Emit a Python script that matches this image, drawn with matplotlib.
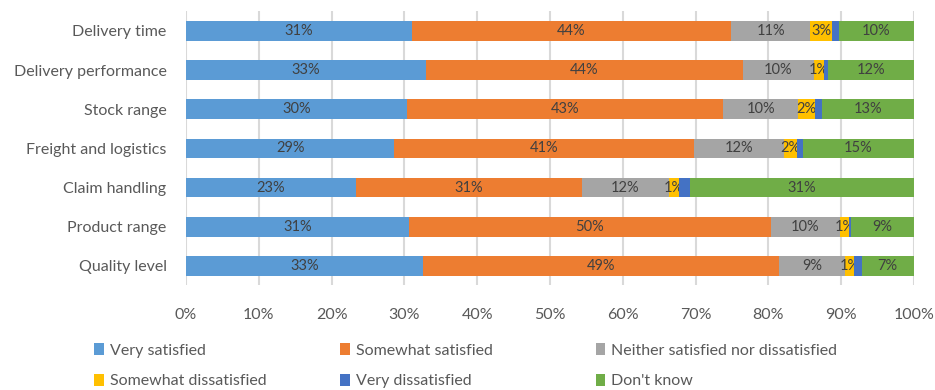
import numpy as np
import matplotlib.pyplot as plt
from matplotlib.ticker import PercentFormatter

# Kategorien (von oben nach unten) und Anteile je Antwort in Prozent
kategorien = ['Delivery time', 'Delivery performance', 'Stock range',
              'Freight and logistics', 'Claim handling', 'Product range',
              'Quality level']
very_satisfied = [31.0, 32.9, 30.4, 28.6, 23.3, 30.6, 32.6]
somewhat_satisfied = [43.9, 43.6, 43.4, 41.2, 31.1, 49.7, 48.9]
neither = [10.8, 9.7, 10.3, 12.4, 11.9, 9.6, 9.0]
somewhat_dissatisfied = [3.1, 1.4, 2.3, 1.7, 1.4, 1.2, 1.3]
very_dissatisfied = [0.9, 0.6, 0.9, 0.8, 1.5, 0.3, 1.0]
dont_know = [10.3, 11.8, 12.7, 15.3, 30.8, 8.6, 7.2]

serien = [
    ('Very satisfied', very_satisfied, '#5b9bd5', True),
    ('Somewhat satisfied', somewhat_satisfied, '#ed7d31', True),
    ('Neither satisfied nor dissatisfied', neither, '#a5a5a5', True),
    ('Somewhat dissatisfied', somewhat_dissatisfied, '#ffc000', True),
    ('Very dissatisfied', very_dissatisfied, '#4472c4', False),
    ("Don't know", dont_know, '#70ad47', True),
]

plt.rcParams['font.family'] = ['Lato', 'DejaVu Sans']
textfarbe = '#595959'

fig = plt.figure(figsize=(9.35, 3.9), dpi=100)
ax = fig.add_axes([0.199, 0.268, 0.7785, 0.703])

y = np.arange(len(kategorien))
links = np.zeros(len(kategorien))
balken = []
for name, werte, farbe, beschriften in serien:
    werte = np.array(werte)
    b = ax.barh(y, werte, left=links, height=0.5, color=farbe, label=name,
                zorder=3)
    balken.append(b)
    if beschriften:
        ax.bar_label(b, labels=[f'{w:.0f}%' for w in werte],
                     label_type='center', color='#404040', fontsize=10.5)
    links += werte

ax.set_xlim(0, 100)
ax.set_ylim(len(kategorien) - 0.5, -0.5)
ax.set_yticks(y)
ax.set_yticklabels(kategorien)
ax.set_xticks(np.arange(0, 101, 10))
ax.xaxis.set_major_formatter(PercentFormatter(decimals=0))
ax.tick_params(axis='both', length=0, labelsize=11.5, colors=textfarbe)
ax.tick_params(axis='x', pad=16)
ax.tick_params(axis='y', pad=14)
ax.grid(axis='x', color='#d9d9d9', linewidth=1.5, zorder=0)
for s in ax.spines.values():
    s.set_visible(False)

# Legende in drei Spalten mit gleichem Abstand
spalten_x = [0.101, 0.364, 0.637]
for i, x in enumerate(spalten_x):
    paar = [balken[i], balken[i + 3]]
    leg = fig.legend(paar, [serien[i][0], serien[i + 3][0]],
                     loc='upper left', bbox_to_anchor=(x, 0.12),
                     bbox_transform=fig.transFigure, frameon=False,
                     fontsize=11.5, handlelength=0.6, handleheight=0.8,
                     handletextpad=0.35, labelspacing=1.0, borderpad=0,
                     borderaxespad=0)
    for t in leg.get_texts():
        t.set_color(textfarbe)

fig.savefig('out.png', dpi=100)
